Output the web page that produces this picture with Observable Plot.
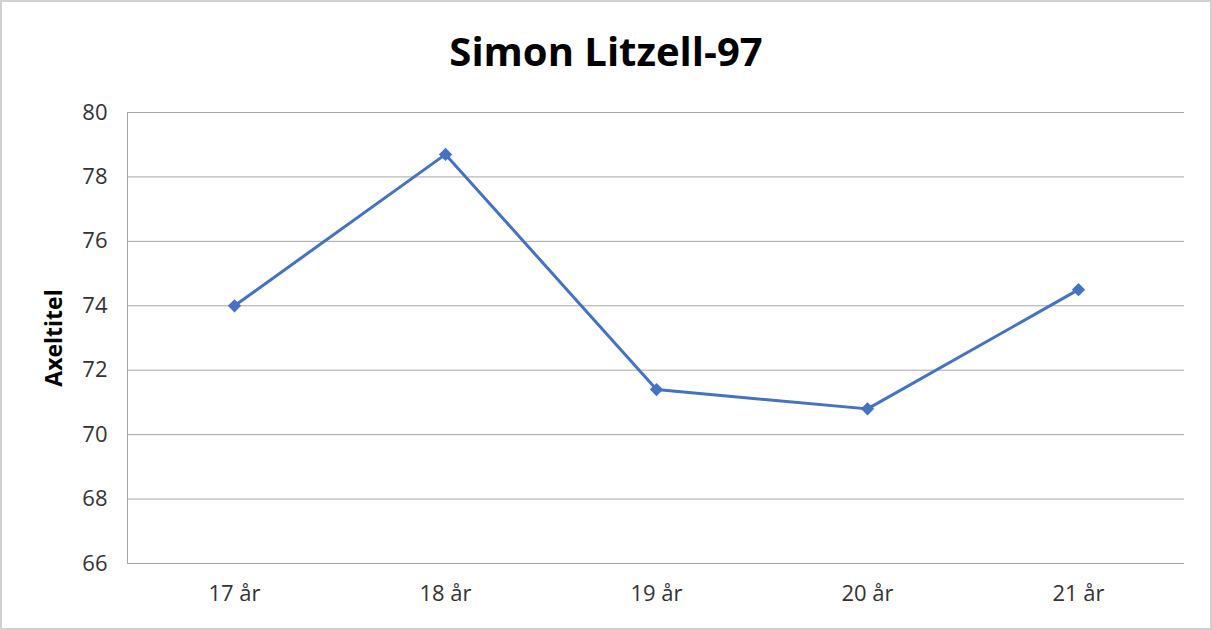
<!DOCTYPE html>
<html>
<head>
<meta charset="utf-8">
<script src="https://cdn.jsdelivr.net/npm/d3@7"></script>
<script src="https://cdn.jsdelivr.net/npm/@observablehq/plot@0.6"></script>
<style>
  html, body { margin: 0; padding: 0; background: #fff; }
  #wrap {
    position: relative; width: 1212px; height: 630px; box-sizing: border-box;
    border: 2px solid #d0d0d0; background: #fff; overflow: hidden;
    font-family: "Open Sans", "Noto Sans", sans-serif;
  }
  #title {
    height: 93px; line-height: 98px; text-align: center;
    font-size: 40px; font-weight: bold; color: #000;
  }
  #chart svg { display: block; }
</style>
</head>
<body>
<div id="wrap">
  <div id="title">Simon Litzell-97</div>
  <div id="chart"></div>
</div>
<script>
const categories = ["17 år", "18 år", "19 år", "20 år", "21 år"];
const values = [74.0, 78.7, 71.4, 70.8, 74.5];
const yTicks = [66, 68, 70, 72, 74, 76, 78, 80];
const yLabel = "Axeltitel";

const data = categories.map((c, i) => ({cat: c, val: values[i]}));

const chart = Plot.plot({
  width: 1208,
  height: 535,
  marginTop: 17,
  marginBottom: 67,
  marginLeft: 125,
  marginRight: 26,
  style: {fontFamily: "'Open Sans', 'Noto Sans', sans-serif", fontSize: "22px", color: "#333", background: "#fff"},
  x: {type: "point", domain: categories, padding: 0.5, label: null},
  y: {domain: [66, 80], ticks: yTicks, label: null},
  marks: [
    Plot.gridY(yTicks, {stroke: "#a6a6a6", strokeOpacity: 1, strokeWidth: 1}),
    Plot.frame({anchor: "left", stroke: "#a6a6a6", strokeWidth: 1}),
    Plot.axisY(yTicks, {tickSize: 0, tickPadding: 20, fontSize: 22, fill: "#333"}),
    Plot.axisX({tickSize: 0, tickPadding: 22, fontSize: 22, fill: "#333"}),
    Plot.text([yLabel], {frameAnchor: "left", textAnchor: "middle", dx: -73, rotate: -90, fontWeight: "bold", fontSize: 23, fill: "#000"}),
    Plot.line(data, {x: "cat", y: "val", stroke: "#4472C4", strokeWidth: 3}),
    Plot.dot(data, {x: "cat", y: "val", symbol: "diamond2", r: 6, fill: "#4472C4", stroke: "none"})
  ]
});
document.getElementById("chart").appendChild(chart);
</script>
</body>
</html>
